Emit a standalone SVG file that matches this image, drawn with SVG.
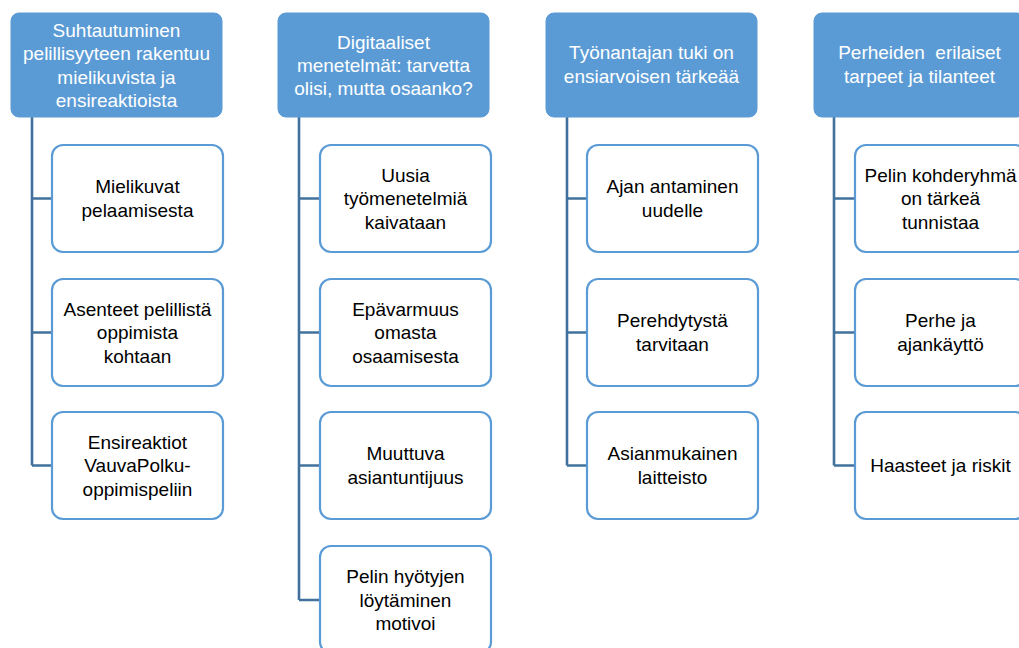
<svg xmlns="http://www.w3.org/2000/svg" width="1019" height="648" viewBox="0 0 1019 648">
<style>
.hdr{fill:#5B9BD5;stroke:#5B9BD5;stroke-width:1}
.box{fill:#FFFFFF;stroke:#5B9BD5;stroke-width:2.2}
.conn{fill:none;stroke:#41719C;stroke-width:2.6}
text{font-family:"Liberation Sans",Arial,sans-serif;font-size:19px;text-anchor:middle}
.ht{fill:#FFFFFF}
.bt{fill:#000000}
</style>
<rect width="1019" height="648" fill="#FFFFFF"/>
<g id="connectors">
<path class="conn" d="M32,117 V465.5 M32,198.5 H52 M32,332.5 H52 M32,465.5 H52"/>
<path class="conn" d="M299,117 V600 M299,198.5 H320 M299,332.5 H320 M299,465.5 H320 M299,600 H320"/>
<path class="conn" d="M567,117 V465.5 M567,198.5 H587 M567,332.5 H587 M567,465.5 H587"/>
<path class="conn" d="M834,117 V465.5 M834,198.5 H855 M834,332.5 H855 M834,465.5 H855"/>
</g>
<g id="h1">
<rect class="hdr" x="11" y="13" width="211" height="104" rx="8"/>
<text class="ht"><tspan x="116.5" y="36.5">Suhtautuminen</tspan><tspan x="116.5" y="60">pelillisyyteen rakentuu</tspan><tspan x="116.5" y="83.5">mielikuvista ja</tspan><tspan x="116.5" y="107">ensireaktioista</tspan></text>
</g>
<g id="h2">
<rect class="hdr" x="278" y="13" width="211" height="104" rx="8"/>
<text class="ht"><tspan x="383.5" y="48.5">Digitaaliset</tspan><tspan x="383.5" y="71.5">menetelmät: tarvetta</tspan><tspan x="383.5" y="94.5">olisi, mutta osaanko?</tspan></text>
</g>
<g id="h3">
<rect class="hdr" x="546" y="13" width="211" height="104" rx="8"/>
<text class="ht"><tspan x="651.5" y="59">Työnantajan tuki on</tspan><tspan x="651.5" y="82.5">ensiarvoisen tärkeää</tspan></text>
</g>
<g id="h4">
<rect class="hdr" x="814" y="13" width="211" height="104" rx="8"/>
<text class="ht" xml:space="preserve" style="white-space:pre"><tspan x="919.5" y="58.5">Perheiden  erilaiset</tspan><tspan x="919.5" y="82.5">tarpeet ja tilanteet</tspan></text>
</g>
<g id="c1a">
<rect class="box" x="52" y="145" width="171" height="107" rx="11"/>
<text class="bt"><tspan x="137.5" y="193">Mielikuvat</tspan><tspan x="137.5" y="217">pelaamisesta</tspan></text>
</g>
<g id="c1b">
<rect class="box" x="52" y="279" width="171" height="107" rx="11"/>
<text class="bt"><tspan x="137.5" y="315.5">Asenteet pelillistä</tspan><tspan x="137.5" y="339">oppimista</tspan><tspan x="137.5" y="362.5">kohtaan</tspan></text>
</g>
<g id="c1c">
<rect class="box" x="52" y="412" width="171" height="107" rx="11"/>
<text class="bt"><tspan x="137.5" y="448.5">Ensireaktiot</tspan><tspan x="137.5" y="472">VauvaPolku-</tspan><tspan x="137.5" y="495.5">oppimispeliin</tspan></text>
</g>
<g id="c2a">
<rect class="box" x="320" y="145" width="171" height="107" rx="11"/>
<text class="bt"><tspan x="405.5" y="181.5">Uusia</tspan><tspan x="405.5" y="205">työmenetelmiä</tspan><tspan x="405.5" y="228.5">kaivataan</tspan></text>
</g>
<g id="c2b">
<rect class="box" x="320" y="279" width="171" height="107" rx="11"/>
<text class="bt"><tspan x="405.5" y="315.5">Epävarmuus</tspan><tspan x="405.5" y="339">omasta</tspan><tspan x="405.5" y="362.5">osaamisesta</tspan></text>
</g>
<g id="c2c">
<rect class="box" x="320" y="412" width="171" height="107" rx="11"/>
<text class="bt"><tspan x="405.5" y="460">Muuttuva</tspan><tspan x="405.5" y="484">asiantuntijuus</tspan></text>
</g>
<g id="c2d">
<rect class="box" x="320" y="546" width="171" height="107" rx="11"/>
<text class="bt"><tspan x="405.5" y="583">Pelin hyötyjen</tspan><tspan x="405.5" y="606.5">löytäminen</tspan><tspan x="405.5" y="630">motivoi</tspan></text>
</g>
<g id="c3a">
<rect class="box" x="587" y="145" width="171" height="107" rx="11"/>
<text class="bt"><tspan x="672.5" y="193">Ajan antaminen</tspan><tspan x="672.5" y="217">uudelle</tspan></text>
</g>
<g id="c3b">
<rect class="box" x="587" y="279" width="171" height="107" rx="11"/>
<text class="bt"><tspan x="672.5" y="327">Perehdytystä</tspan><tspan x="672.5" y="351">tarvitaan</tspan></text>
</g>
<g id="c3c">
<rect class="box" x="587" y="412" width="171" height="107" rx="11"/>
<text class="bt"><tspan x="672.5" y="460">Asianmukainen</tspan><tspan x="672.5" y="484">laitteisto</tspan></text>
</g>
<g id="c4a">
<rect class="box" x="855" y="145" width="171" height="107" rx="11"/>
<text class="bt"><tspan x="940.5" y="181.5">Pelin kohderyhmä</tspan><tspan x="940.5" y="205">on tärkeä</tspan><tspan x="940.5" y="228.5">tunnistaa</tspan></text>
</g>
<g id="c4b">
<rect class="box" x="855" y="279" width="171" height="107" rx="11"/>
<text class="bt"><tspan x="940.5" y="327">Perhe ja</tspan><tspan x="940.5" y="351">ajankäyttö</tspan></text>
</g>
<g id="c4c">
<rect class="box" x="855" y="412" width="171" height="107" rx="11"/>
<text class="bt"><tspan x="940.5" y="472">Haasteet ja riskit</tspan></text>
</g>
</svg>
